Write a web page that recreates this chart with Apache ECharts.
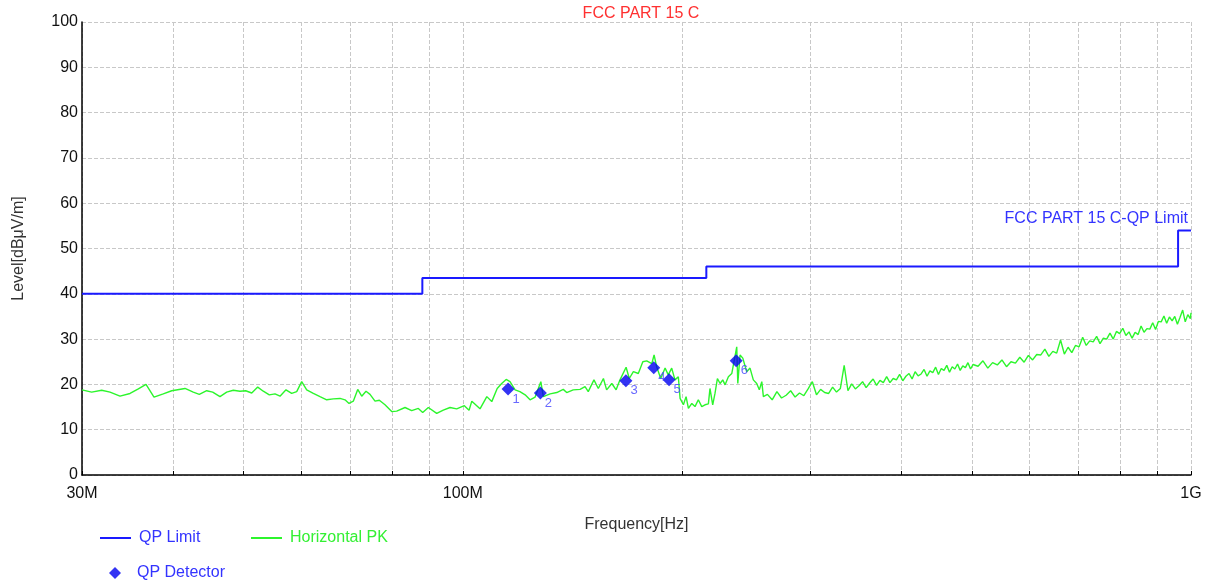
<!DOCTYPE html>
<html>
<head>
<meta charset="utf-8">
<script src="https://cdn.jsdelivr.net/npm/echarts@6/dist/echarts.min.js"></script>
<style>
html, body { margin: 0; padding: 0; background: #fff; }
#main { width: 1211px; height: 584px; }
</style>
</head>
<body>
<div id="main"></div>
<script>
// 频率轴 (MHz) 网格/标签
const gridFreqs = [30, 40, 50, 60, 70, 80, 90, 100, 200, 300, 400, 500, 600, 700, 800, 900, 1000]
const labelFreqs = [30, 100, 1000]

// QP 限值 (阶梯)
const limitFreq = [30, 88, 88, 216, 216, 960, 960, 1000]
const limitLevel = [40, 40, 43.5, 43.5, 46, 46, 54, 54]

// 水平极化 PK 扫描
const pkFreq = [
  30.0, 30.93, 31.93, 32.78, 33.83, 34.92, 35.85, 36.73, 37.67, 38.79, 39.84, 41.55, 42.65, 43.47, 44.50,
  45.35, 46.41, 47.40, 48.40, 49.44, 50.34, 51.31, 52.29, 53.22, 54.24, 55.23, 56.11, 57.18, 58.22, 59.15,
  60.09, 61.05, 62.34, 63.67, 65.04, 66.41, 67.83, 68.91, 69.79, 70.74, 71.74, 72.65, 73.64, 74.58, 75.77,
  76.81, 78.20, 79.88, 81.15, 83.31, 85.09, 86.89, 88.10, 89.68, 92.09, 94.03, 96.05, 98.10, 100.5, 102.0,
  102.9, 105.6, 107.9, 109.6, 111.5, 113.1, 114.7, 116.1, 118.0, 119.8, 121.8, 123.7, 125.7, 128.0, 129.0,
  131.8, 134.6, 137.4, 138.9, 141.8, 144.9, 147.2, 148.7, 151.4, 153.5, 156.0, 157.6, 160.2, 162.4, 164.4,
  167.6, 169.3, 171.5, 174.2, 176.7, 178.9, 181.8, 183.1, 184.6, 187.0, 189.6, 191.5, 193.6, 195.6, 197.7,
  198.8, 200.9, 202.6, 204.1, 206.3, 208.4, 210.6, 212.9, 215.1, 217.4, 218.5, 220.4, 222.0, 223.7, 225.6,
  227.5, 229.2, 231.6, 234.1, 235.3, 237.8, 238.6, 240.3, 242.4, 245.4, 248.0, 250.6, 253.3, 255.4, 257.4,
  258.7, 262, 266, 270, 274, 278, 282, 286, 290, 294, 298, 302, 306, 310, 314,
  318, 322, 326, 330, 334, 338, 342, 346, 350, 354, 358, 362, 366, 370, 374,
  378, 382, 386, 390, 394, 398, 402, 406, 410, 414, 418, 422, 426, 430, 434,
  438, 442, 446, 450, 454, 458, 462, 466, 470, 474, 478, 482, 486, 490, 494,
  498, 502, 510, 518, 526, 534, 542, 550, 558, 566, 574, 582, 590, 598, 606,
  614, 622, 630, 638, 646, 654, 662, 670, 678, 686, 694, 702, 710, 718, 726,
  734, 742, 750, 758, 766, 774, 782, 790, 798, 806, 814, 822, 830, 838, 846,
  854, 862, 870, 878, 886, 894, 902, 910, 918, 926, 934, 942, 950, 958, 966,
  974, 982, 990, 998, 1000
]
const pkLevel = [
  18.8, 18.3, 18.7, 18.3, 17.4, 18.0, 19.0, 20.0, 17.2, 17.9, 18.6, 19.1, 18.3, 17.8, 18.6,
  18.3, 17.3, 18.3, 18.7, 18.5, 18.6, 18.1, 19.4, 18.5, 17.7, 17.9, 17.4, 18.8, 18.0, 18.4,
  20.6, 18.8, 18.0, 17.3, 16.6, 16.8, 16.9, 16.6, 15.8, 16.3, 18.9, 17.4, 18.5, 17.8, 16.3,
  16.5, 15.5, 14.0, 14.1, 14.9, 14.2, 14.7, 13.8, 14.9, 13.6, 14.3, 14.9, 14.6, 15.3, 14.3,
  16.3, 14.6, 17.3, 16.2, 19.1, 20.2, 21.1, 20.6, 18.8, 18.4, 17.7, 16.6, 17.2, 20.6, 17.3,
  17.9, 18.2, 18.9, 18.2, 18.8, 18.9, 19.5, 18.4, 21.0, 19.1, 21.3, 18.8, 20.2, 18.8, 21.0,
  23.8, 21.3, 22.8, 22.4, 25.0, 25.2, 24.6, 26.5, 23.9, 21.3, 23.6, 22.1, 23.6, 21.0, 21.7,
  16.9, 15.5, 17.3, 14.7, 15.8, 15.1, 16.6, 15.1, 15.5, 15.7, 19.1, 15.5, 18.0, 21.3, 20.2,
  21.0, 19.9, 21.7, 22.4, 24.3, 28.3, 20.2, 26.5, 25.8, 22.8, 23.6, 21.0, 20.2, 18.8, 20.6,
  17.3, 17.8, 16.6, 18.4, 17.0, 17.6, 18.6, 17.2, 18.1, 17.5, 19.0, 20.6, 17.7, 18.9, 18.2,
  18.0, 19.4, 18.3, 19.1, 24.2, 18.6, 20.1, 19.0, 19.7, 20.6, 19.3, 20.3, 21.2, 19.8, 20.9,
  20.4, 21.7, 20.4, 21.3, 21.0, 22.2, 20.8, 21.8, 22.4, 21.2, 22.8, 21.9, 22.3, 23.3, 21.8,
  23.0, 22.6, 23.8, 22.2, 23.5, 23.1, 24.2, 22.7, 23.9, 23.4, 24.5, 23.1, 24.1, 23.7, 24.8,
  23.4, 24.4, 24.0, 25.2, 23.6, 24.8, 24.3, 25.4, 23.9, 25.0, 24.7, 26.0, 24.9, 26.4, 25.4,
  26.6, 26.5, 27.8, 26.2, 27.3, 26.9, 29.8, 26.7, 28.2, 27.0, 28.6, 28.3, 30.4, 28.6, 29.6,
  29.4, 30.6, 29.0, 30.2, 30.0, 31.3, 30.0, 31.7, 31.2, 32.4, 30.8, 31.6, 30.2, 31.5, 31.0,
  32.9, 31.5, 32.3, 32.2, 33.6, 32.1, 33.9, 33.8, 35.1, 33.5, 34.9, 34.0, 35.0, 33.3, 34.8,
  36.4, 33.8, 35.4, 34.5, 35.8
]

// QP 检波点
const qpFreq = [115.4, 127.8, 167.5, 182.9, 192.0, 237.4]
const qpLevel = [19.0, 18.1, 20.8, 23.7, 21.0, 25.2]
const qpNames = ['1', '2', '3', '4', '5', '6']

const zip = (xs, ys) => xs.map((x, i) => [x, ys[i]])
const font = 'Liberation Sans, Arial, sans-serif'
const blue = '#1a1aff'
const green = '#2cf52c'

let myChart = echarts.init(document.getElementById('main'))
let option = {
    animation: false,
    backgroundColor: '#fff',
    title: [
        {
            text: 'FCC PART 15 C',
            left: 636, top: 1, textAlign: 'center',
            textStyle: { color: '#ff3030', fontSize: 16, fontWeight: 'normal', fontFamily: font }
        },
        {
            text: 'FCC PART 15 C-QP Limit',
            right: 18, top: 206,
            textStyle: { color: '#3333ff', fontSize: 16, fontWeight: 'normal', fontFamily: font }
        }
    ],
    grid: { left: 82, right: 20, top: 22, bottom: 109 },
    legend: [
        {
            left: 100, top: 530, padding: 0, itemWidth: 31, itemHeight: 2, icon: 'rect',
            data: ['QP Limit'],
            textStyle: { color: '#3333ff', fontSize: 16, fontFamily: font, padding: [0, 0, 0, 3] }
        },
        {
            left: 251, top: 530, padding: 0, itemWidth: 31, itemHeight: 2, icon: 'rect',
            data: ['Horizontal PK'],
            textStyle: { color: '#33f033', fontSize: 16, fontFamily: font, padding: [0, 0, 0, 3] }
        },
        {
            left: 109, top: 565, padding: 0, itemWidth: 12, itemHeight: 12, icon: 'diamond',
            data: ['QP Detector'],
            textStyle: { color: '#3333ff', fontSize: 16, fontFamily: font, padding: [0, 0, 0, 11] }
        }
    ],
    xAxis: {
        type: 'log',
        logBase: 10,
        min: 30,
        max: 1000,
        name: 'Frequency[Hz]',
        nameLocation: 'middle',
        nameGap: 42,
        nameTextStyle: { color: '#333', fontSize: 16, fontFamily: font },
        axisLine: { onZero: false, lineStyle: { color: '#000', width: 1.5 } },
        axisTick: { show: true, inside: true, length: 4, customValues: gridFreqs, lineStyle: { color: '#000' } },
        axisLabel: {
            customValues: labelFreqs,
            color: '#111', fontSize: 16, fontFamily: font, margin: 11,
            formatter: function (v) { return v >= 1000 ? (v / 1000) + 'G' : v + 'M' }
        },
        splitLine: { show: true, lineStyle: { color: '#c8c8c8', type: 'dashed', width: 1 } },
        minorTick: { show: false },
        minorSplitLine: { show: false }
    },
    yAxis: {
        type: 'value',
        min: 0,
        max: 100,
        interval: 10,
        name: 'Level[dBμV/m]',
        nameLocation: 'middle',
        nameGap: 55,
        nameTextStyle: { color: '#333', fontSize: 16, fontFamily: font },
        axisLine: { show: true, lineStyle: { color: '#000', width: 1.5 } },
        axisTick: { show: false },
        axisLabel: { color: '#111', fontSize: 16, fontFamily: font, margin: 4 },
        splitLine: { show: true, lineStyle: { color: '#c8c8c8', type: 'dashed', width: 1 } }
    },
    series: [
        {
            name: 'QP Limit',
            type: 'line',
            data: zip(limitFreq, limitLevel),
            showSymbol: false,
            symbol: 'none',
            lineStyle: { color: blue, width: 2 },
            itemStyle: { color: blue },
            z: 3
        },
        {
            name: 'Horizontal PK',
            type: 'line',
            data: zip(pkFreq, pkLevel),
            showSymbol: false,
            symbol: 'none',
            lineStyle: { color: green, width: 1.4 },
            itemStyle: { color: green },
            z: 2
        },
        {
            name: 'QP Detector',
            type: 'scatter',
            symbol: 'diamond',
            symbolSize: 13,
            data: qpFreq.map((f, i) => ({ value: [f, qpLevel[i]], name: qpNames[i] })),
            itemStyle: { color: '#0000f0' },
            label: {
                show: true,
                position: 'right',
                offset: [-7, 10],
                formatter: '{b}',
                color: '#4444ff',
                fontSize: 13,
                fontFamily: font
            },
            z: 4
        }
    ]
}
myChart.setOption(option)
</script>
</body>
</html>
